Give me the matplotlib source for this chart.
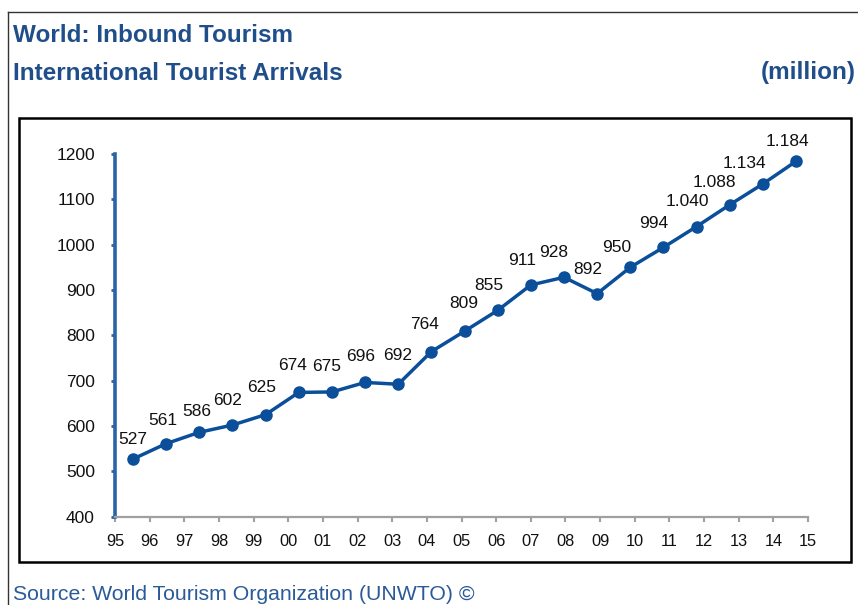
###########
# IMPORTS #
###########

import matplotlib
matplotlib.use("Agg")
import matplotlib.pyplot as plt
from matplotlib.lines import Line2D
from matplotlib.patches import Rectangle
import numpy as np

########
# DATA #
########

years = ["95", "96", "97", "98", "99", "00", "01", "02", "03", "04", "05",
         "06", "07", "08", "09", "10", "11", "12", "13", "14", "15"]
arrivals = [527, 561, 586, 602, 625, 674, 675, 696, 692, 764, 809,
            855, 911, 928, 892, 950, 994, 1040, 1088, 1134, 1184]
point_labels = ["527", "561", "586", "602", "625", "674", "675", "696", "692",
                "764", "809", "855", "911", "928", "892", "950", "994",
                "1.040", "1.088", "1.134", "1.184"]
y_ticks = [400, 500, 600, 700, 800, 900, 1000, 1100, 1200]

# where each value label sits relative to its point (pixels)
label_nudge = [(0, 20), (-3, 23), (-3, 21), (-5, 25), (-4, 27), (-6, 27),
               (-5, 25), (-4, 26), (-1, 29), (-7, 27), (-1, 28), (-9, 25),
               (-9, 24), (-10, 25), (-9, 24), (-14, 20), (-10, 24), (-9, 25),
               (-15, 22), (-18, 20), (-9, 20)]

#########
# STYLE #
#########

BLUE = "#0b4f9a"
TITLE_BLUE = "#1f4e8a"
plt.rcParams["font.family"] = ["Liberation Sans", "DejaVu Sans"]

#################
# VISUALISATION #
#################

W, H = 858, 605
fig = plt.figure(figsize=(W / 100, H / 100), dpi=100)

# outer frame (left + top only, rest is cut off)
fig.add_artist(Line2D([8 / W, 8 / W], [0, 1 - 12 / H], color="#333333", lw=1.0))
fig.add_artist(Line2D([8 / W, 1], [1 - 12 / H, 1 - 12 / H], color="#333333", lw=1.0))

# inner frame around the chart
fig.add_artist(Rectangle((19 / W, 1 - 562 / H), 832 / W, 444 / H,
                         fill=False, edgecolor="black", lw=1.8))

fig.text(13 / W, 1 - 36 / H, "World: Inbound Tourism", color=TITLE_BLUE,
         fontsize=17.5, fontweight="bold", va="center", ha="left")
fig.text(13 / W, 1 - 73 / H, "International Tourist Arrivals", color=TITLE_BLUE,
         fontsize=17.5, fontweight="bold", va="center", ha="left")
fig.text(856 / W, 1 - 73 / H, "(million)", color=TITLE_BLUE,
         fontsize=17.5, fontweight="bold", va="center", ha="right")
fig.text(13 / W, 1 - 594 / H, "Source: World Tourism Organization (UNWTO) \u00a9",
         color="#2a5a98", fontsize=15.3, va="center", ha="left")

ax = fig.add_axes([115 / W, 1 - 516.6 / H, 693 / W, (516.6 - 154) / H])

x = np.arange(len(arrivals))
ax.plot(x, arrivals, color=BLUE, lw=2.5, marker="o", markersize=8,
        markerfacecolor=BLUE, markeredgecolor=BLUE, clip_on=False, zorder=3)

for xi, yi, lab, (dx, dy) in zip(x, arrivals, point_labels, label_nudge):
    ax.annotate(lab, (xi, yi), xytext=(dx, dy), textcoords="offset pixels",
                ha="center", va="center", fontsize=12.5, color="#111111")

x0, x1 = -0.543, 20.36
ax.set_xlim(x0, x1)
ax.set_ylim(400, 1200)

ax.set_xticks(np.linspace(x0, x1, len(years)))
ax.set_xticklabels(years, fontsize=11.8, color="#111111")
ax.set_yticks(y_ticks)
ax.set_yticklabels([str(v) for v in y_ticks], fontsize=12.5, color="#111111")

for side in ["top", "right"]:
    ax.spines[side].set_visible(False)
ax.spines["left"].set_color("#2b63a6")
ax.spines["left"].set_linewidth(2.6)
ax.spines["bottom"].set_color("#a0a0a0")
ax.spines["bottom"].set_linewidth(1.6)

ax.tick_params(axis="y", direction="out", length=3, width=2, color="#2b63a6",
               pad=11.5)
ax.tick_params(axis="x", direction="out", length=3.6, width=1.5, color="#a0a0a0",
               pad=9)
ax.patch.set_visible(False)

fig.savefig("out.png", dpi=100)
